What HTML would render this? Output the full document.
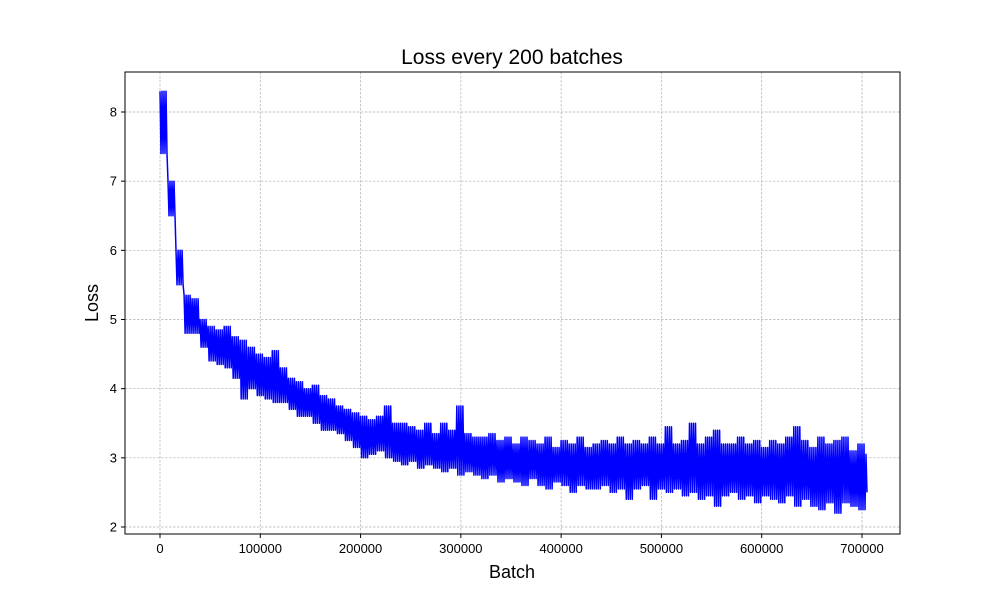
<!DOCTYPE html>
<html><head><meta charset="utf-8"><style>
body{margin:0;background:#fff;font-family:"Liberation Sans",sans-serif}
svg text{font-family:"Liberation Sans",sans-serif}
</style></head><body>
<svg id="chart" width="1000" height="600" viewBox="0 0 1000 600">
<rect width="1000" height="600" fill="#fff"/>
<text x="512" y="64" text-anchor="middle" font-size="21">Loss every 200 batches</text>
<g id="grid"></g><g id="ticks"></g><g id="series"></g>
<rect x="125" y="72" width="775" height="462" fill="none" stroke="#000" stroke-width="1"/>
<text x="512" y="578" text-anchor="middle" font-size="18">Batch</text>
<text x="98" y="303" text-anchor="middle" font-size="18" transform="rotate(-90 98 303)">Loss</text>
</svg>
<script>
const xTicks=[0,100000,200000,300000,400000,500000,600000,700000];
const yTicks=[2,3,4,5,6,7,8];
const bucketSize=8000;
const subStep=1000;
const lastBatch=705000;
const lossUpper=[8.3,7.0,6.0,5.35,5.3,5.0,4.9,4.85,4.9,4.75,4.7,4.6,4.5,4.45,4.55,4.3,4.15,4.1,4.0,4.05,
3.9,3.85,3.75,3.7,3.65,3.6,3.55,3.6,3.75,3.5,3.5,3.45,3.4,3.5,3.35,3.5,3.4,3.75,3.35,3.3,
3.3,3.35,3.25,3.3,3.2,3.3,3.25,3.2,3.3,3.15,3.25,3.2,3.3,3.15,3.2,3.25,3.2,3.3,3.2,3.25,
3.2,3.3,3.2,3.45,3.2,3.25,3.5,3.2,3.3,3.4,3.2,3.2,3.3,3.2,3.25,3.15,3.25,3.2,3.3,3.45,
3.25,3.15,3.3,3.2,3.25,3.3,3.1,3.2,3.05];
const lossLower=[7.4,6.5,5.5,4.8,4.8,4.6,4.4,4.35,4.3,4.15,3.85,4.0,3.9,3.85,3.8,3.8,3.7,3.6,3.6,3.5,
3.4,3.4,3.35,3.25,3.15,3.0,3.05,3.1,3.0,2.95,2.9,2.95,2.85,2.9,2.85,2.8,2.85,2.75,2.8,2.75,
2.7,2.75,2.65,2.7,2.65,2.6,2.7,2.6,2.55,2.65,2.6,2.5,2.6,2.55,2.55,2.6,2.5,2.55,2.4,2.55,
2.6,2.4,2.55,2.5,2.55,2.45,2.5,2.4,2.45,2.3,2.45,2.5,2.4,2.45,2.35,2.45,2.4,2.35,2.45,2.3,
2.4,2.3,2.25,2.35,2.2,2.35,2.3,2.25,2.5];
const NS="http://www.w3.org/2000/svg";
const xs=v=>160+v*(862-160)/700000;
const ys=v=>527-(v-2)*(527-112)/6;
function mk(tag,attrs,parent){const e=document.createElementNS(NS,tag);for(const k in attrs)e.setAttribute(k,attrs[k]);parent.appendChild(e);return e;}
const grid=document.getElementById('grid'),ticks=document.getElementById('ticks'),series=document.getElementById('series');
xTicks.forEach(t=>{const x=xs(t);
 const g=mk('line',{x1:x,x2:x,y1:72,y2:534,stroke:'#b0b0b0','stroke-width':0.7,'stroke-dasharray':'2.5,1.5'},grid);
 
 
 const tk=mk('line',{x1:x,x2:x,y1:534,y2:538,stroke:'#000'},ticks);
 
 
 const tx=mk('text',{x:x,y:553,'text-anchor':'middle','font-size':13},ticks);tx.textContent=t;
 
 });
yTicks.forEach(t=>{const y=ys(t);
 const g=mk('line',{x1:125,x2:900,y1:y,y2:y,stroke:'#b0b0b0','stroke-width':0.7,'stroke-dasharray':'2.5,1.5'},grid);
 
 
 const tk=mk('line',{x1:121,x2:125,y1:y,y2:y,stroke:'#000'},ticks);
 
 
 const tx=mk('text',{x:117,y:y+4.5,'text-anchor':'end','font-size':13},ticks);tx.textContent=t;
 
 });
const pts=[];
lossUpper.forEach((hi,i)=>{
 const lo=lossLower[i];
 for(let j=0;j*subStep<bucketSize;j++){
  const b=i*bucketSize+j*subStep;
  if(b>lastBatch)break;
  const v=(j%2===0)?hi:lo;
  pts.push(xs(b).toFixed(1)+','+ys(v).toFixed(1));
 }
});
const pl=mk('polyline',{points:pts.join(' '),fill:'none',stroke:'#0000ff','stroke-width':1.5,'stroke-linejoin':'round'},series);


</script>
</body></html>
